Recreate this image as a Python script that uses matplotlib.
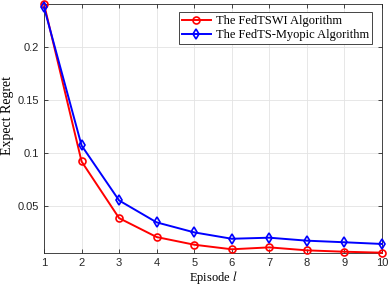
import matplotlib
matplotlib.use("Agg")
from matplotlib import pyplot as plt

episodes = [1, 2, 3, 4, 5, 6, 7, 8, 9, 10]
fedtswi = [0.240, 0.092, 0.0387, 0.0209, 0.0137, 0.0094, 0.0112, 0.0084, 0.0071, 0.0062]
fedts_myopic = [0.237, 0.107, 0.0553, 0.0347, 0.0253, 0.0193, 0.0203, 0.0175, 0.0160, 0.0144]
yticks = [0.05, 0.1, 0.15, 0.2]

plt.rcParams["mathtext.fontset"] = "stix"

fig = plt.figure(figsize=(3.88, 2.88), dpi=100)
ax = fig.add_axes([0.1134, 0.1226, 0.8711, 0.8634])

ax.plot(episodes, fedtswi, color="red", lw=1.4, marker="o", ms=5, mfc="none",
        mew=1.2, clip_on=False, label="The FedTSWI Algorithm", zorder=3)
ax.plot(episodes, fedts_myopic, color="blue", lw=1.4, marker="d", ms=5, mfc="none",
        mew=1.2, clip_on=False, label="The FedTS-Myopic Algorithm", zorder=3)

ax.set_xlim(1, 10)
ax.set_ylim(min(fedtswi), max(fedtswi))
ax.set_xticks(episodes)
ax.set_yticks(yticks)
ax.set_yticklabels(["0.05", "0.1", "0.15", "0.2"])
ax.grid(True, color="#e3e3e3", lw=0.6)
ax.set_axisbelow(True)
ax.tick_params(direction="in", length=3, width=0.6, colors="#262626",
               labelsize=8, top=True, right=True)
for lab in ax.get_xticklabels() + ax.get_yticklabels():
    lab.set_family("Liberation Sans")
for s in ax.spines.values():
    s.set_color("#262626")
    s.set_linewidth(0.6)

ax.set_xlabel("Episode $l$", family="Liberation Serif", fontsize=9, labelpad=1)
ax.set_ylabel("Expect Regret", family="Liberation Serif", fontsize=10)
ax.yaxis.set_label_coords(-0.088, 0.55)

leg = ax.legend(loc="upper right", bbox_to_anchor=(0.97, 0.968),
                prop={"family": "Liberation Serif", "size": 9},
                fancybox=False, edgecolor="#262626", framealpha=1,
                handlelength=2.3, borderpad=0.25, labelspacing=0.15,
                handletextpad=0.4, borderaxespad=0)
leg.get_frame().set_linewidth(0.6)

fig.savefig("out.png", dpi=100)
